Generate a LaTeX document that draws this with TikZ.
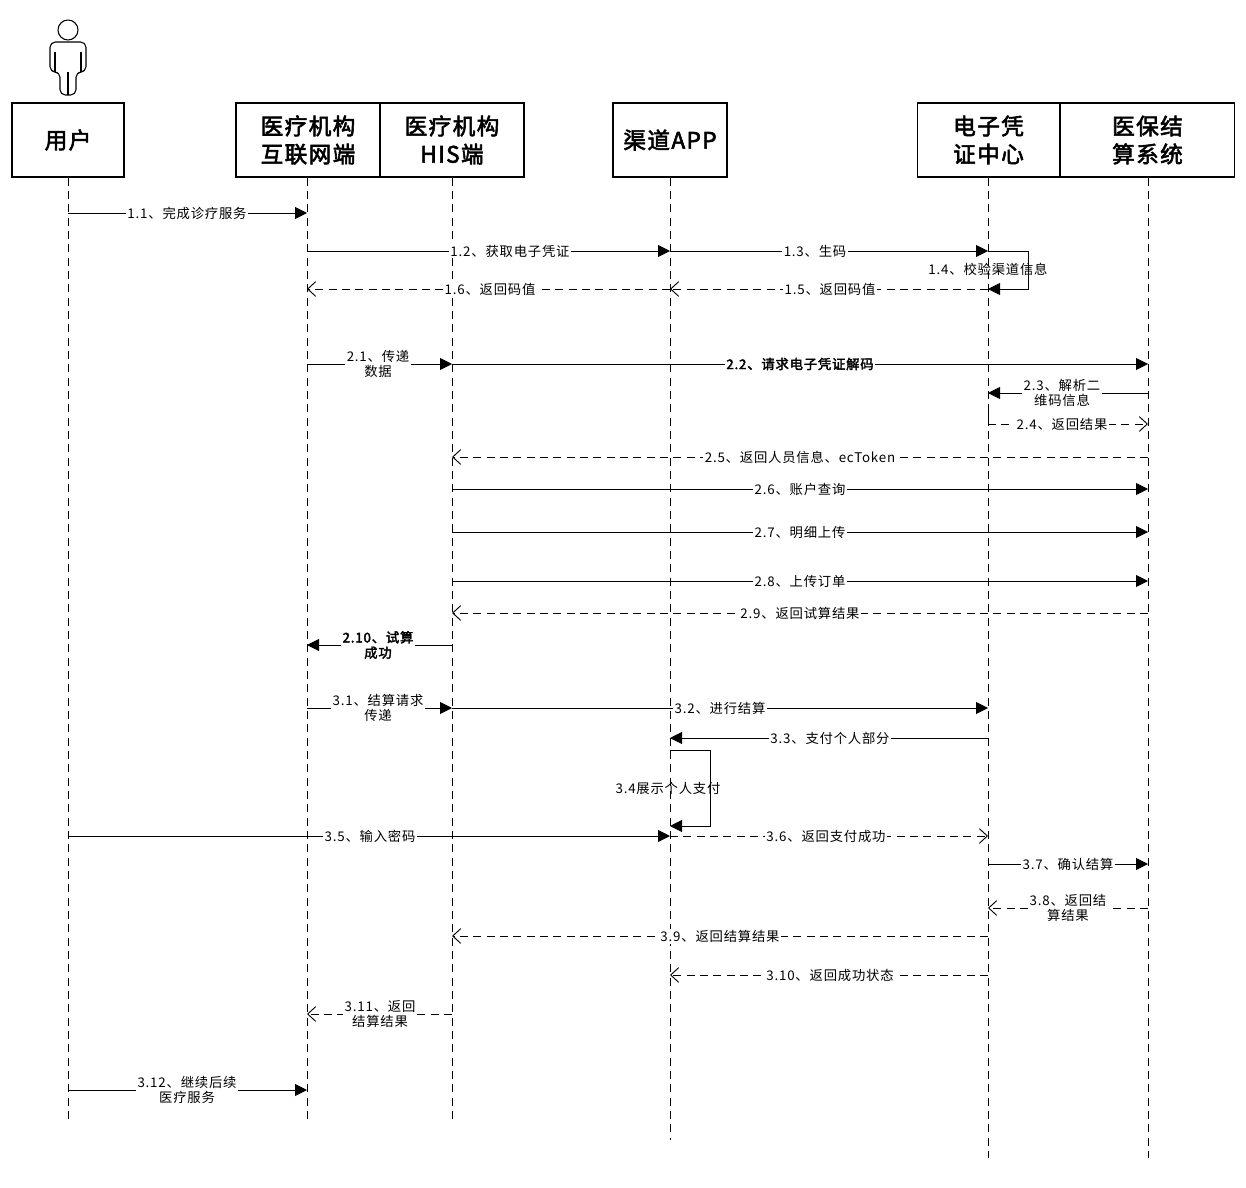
\documentclass[tikz,border=0pt]{standalone}
\usepackage{fontspec}
\setmainfont{Noto Sans CJK SC}[AutoFakeBold=2.5,LetterSpace=6]
\usetikzlibrary{arrows.meta}
\begin{document}
\begin{tikzpicture}[x=0.75pt,y=-0.75pt,
  hdr/.style={draw,line width=0.8pt,minimum height=55.5pt,align=center,font=\fontsize{17}{21}\selectfont\bfseries,inner sep=0pt},
  life/.style={dash pattern=on 6pt off 4pt,line width=0.7pt},
  msg/.style={line width=0.7pt,-{Triangle[length=9pt,width=9pt]}},
  ret/.style={line width=0.7pt,dash pattern=on 6pt off 4pt,-{Straight Barb[length=6pt,width=11pt]}},
  lbl/.style={fill=white,inner sep=1pt,align=center,font=\fontsize{10}{11.5}\selectfont}]
\useasboundingbox (0,0) rectangle (1246,1188);
% actor
\draw[line width=0.8pt] (68,30) circle (10);
\draw[line width=0.8pt,rounded corners=4pt] (60,95) -- (60,72) -- (50,72) -- (50,42) -- (86,42) -- (86,72) -- (76,72) -- (76,95) -- cycle;
\draw[line width=0.8pt] (68,72) -- (68,95) (55,52)--(55,72) (81,52)--(81,72);
% headers
\node[hdr,minimum width=84pt] (u) at (68,140) {用户};
\node[hdr,minimum width=108pt] (i) at (308,140) {医疗机构\\互联网端};
\node[hdr,minimum width=108pt] (h) at (452,140) {医疗机构\\HIS端};
\node[hdr,minimum width=85.5pt] (a) at (670,140) {渠道APP};
\node[hdr,minimum width=107pt] (e) at (988.5,140) {电子凭\\证中心};
\node[hdr,minimum width=131pt] (s) at (1147.5,140) {医保结\\算系统};
% lifelines
\coordinate (ue) at (68,1120); \coordinate (ie) at (307,1120); \coordinate (he) at (452,1120);
\coordinate (ae) at (670,1140); \coordinate (ee) at (988,1158); \coordinate (se) at (1148,1158);
\draw[life] (u.south) -- (ue); \draw[life] (i.south -| ie) -- (ie); \draw[life] (h.south) -- (he);
\draw[life] (a.south) -- (ae); \draw[life] (e.south -| ee) -- (ee); \draw[life] (s.south -| se) -- (se);
\newcommand\mm[6]{\draw[#4] (#1 |- 0,#3) -- (#2 |- 0,#3); \node[lbl] at (#6,#3) {#5};}
\mm{ue}{ie}{213}{msg}{1.1、完成诊疗服务}{187}
\mm{ie}{ae}{251}{msg}{1.2、获取电子凭证}{510}
\mm{ae}{ee}{251}{msg}{1.3、生码}{815}
\draw[line width=0.7pt,-{Triangle[length=9pt,width=9pt]}] (ee |- 0,251) -- (1028,251) -- (1028,289) -- (ee |- 0,289);
\node[lbl,fill=none] at (988,269) {1.4、校验渠道信息};
\mm{ee}{ae}{289}{ret}{1.5、返回码值}{830}
\mm{ae}{ie}{289}{ret}{1.6、返回码值}{490}
\mm{ie}{he}{364}{msg}{2.1、传递\\数据}{378}
\mm{he}{se}{364}{msg}{\bfseries 2.2、请求电子凭证解码}{800}
\mm{se}{ee}{393}{msg}{2.3、解析二\\维码信息}{1062}
\draw[line width=0.7pt] (ee |- 0,408) -- (ee |- 0,424);
\mm{ee}{se}{424}{ret}{2.4、返回结果}{1062}
\mm{se}{he}{457}{ret}{2.5、返回人员信息、ecToken}{800}
\mm{he}{se}{489}{msg}{2.6、账户查询}{800}
\mm{he}{se}{532}{msg}{2.7、明细上传}{800}
\mm{he}{se}{581}{msg}{2.8、上传订单}{800}
\mm{se}{he}{613}{ret}{2.9、返回试算结果}{800}
\mm{he}{ie}{645}{msg}{\bfseries 2.10、试算\\\bfseries 成功}{378}
\mm{ie}{he}{708}{msg}{3.1、结算请求\\传递}{378}
\mm{he}{ee}{708}{msg}{3.2、进行结算}{720}
\mm{ee}{ae}{738}{msg}{3.3、支付个人部分}{830}
\draw[line width=0.7pt,-{Triangle[length=9pt,width=9pt]}] (ae |- 0,750) -- (710,750) -- (710,826) -- (ae |- 0,826);
\node[lbl,fill=none] at (668,788) {3.4展示个人支付};
\mm{ue}{ae}{836}{msg}{3.5、输入密码}{370}
\mm{ae}{ee}{836}{ret}{3.6、返回支付成功}{826}
\mm{ee}{se}{864}{msg}{3.7、确认结算}{1068}
\mm{se}{ee}{908}{ret}{3.8、返回结\\算结果}{1068}
\mm{ee}{he}{936}{ret}{3.9、返回结算结果}{720}
\mm{ee}{ae}{975}{ret}{3.10、返回成功状态}{830}
\mm{he}{ie}{1014}{ret}{3.11、返回\\结算结果}{380}
\mm{ue}{ie}{1090}{msg}{3.12、继续后续\\医疗服务}{187}
\end{tikzpicture}
\end{document}
